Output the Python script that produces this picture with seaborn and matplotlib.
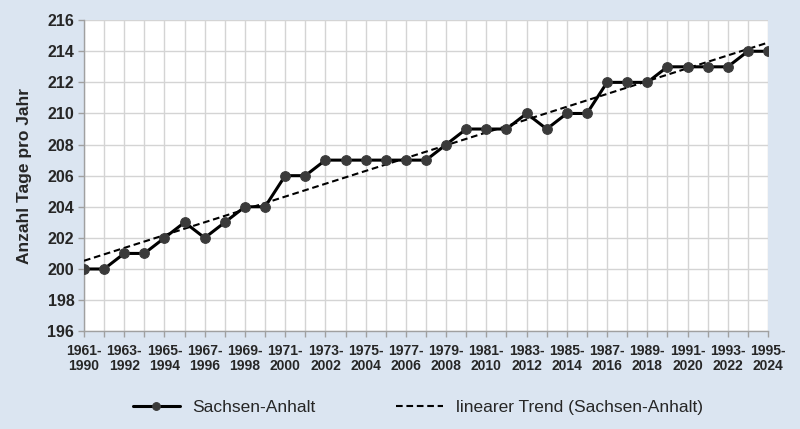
import numpy as np
import pandas as pd
import matplotlib
matplotlib.use("Agg")
import matplotlib.pyplot as plt
import seaborn as sns

periods = [f"{y}-{y+29}" for y in range(1961, 1996)]
values = [200, 200, 201, 201, 202, 203, 202, 203, 204, 204, 206, 206, 207, 207, 207,
          207, 207, 207, 208, 209, 209, 209, 210, 209, 210, 210, 212, 212, 212, 213,
          213, 213, 213, 214, 214]
y_ticks = list(range(196, 217, 2))
series_name = "Sachsen-Anhalt"
trend_name = "linearer Trend (Sachsen-Anhalt)"

sns.set_theme(style="white")
plt.rcParams['font.family'] = ['Liberation Sans', 'DejaVu Sans']

bg = "#dbe5f1"
fig = plt.figure(figsize=(8, 4.29), dpi=100, facecolor=bg)
ax = fig.add_axes([0.105, 0.228, 0.855, 0.725])
ax.set_facecolor("white")

x = np.arange(len(periods))
coef = np.polyfit(x, values, 1)
trend = np.polyval(coef, x)
df = pd.DataFrame({"x": x, "v": values, "t": trend})

sns.lineplot(data=df, x="x", y="t", ax=ax, color="black", linestyle=(0, (3.2, 1.8)),
             linewidth=1.5, label=trend_name, zorder=3)
sns.lineplot(data=df, x="x", y="v", ax=ax, color="black", linewidth=2.2,
             marker="o", markersize=7, markerfacecolor="#3a3a3a",
             markeredgecolor="#3a3a3a", label=series_name, zorder=4)

ax.set_xlim(0, len(periods) - 1)
ax.set_ylim(196, 216)
ax.set_yticks(y_ticks)
ax.set_yticklabels([str(t) for t in y_ticks], fontsize=11.5, fontweight="bold")
ax.set_xticks(x)
ax.set_xticklabels([p.replace("-", "-\n") if i % 2 == 0 else "" for i, p in enumerate(periods)],
                   fontsize=10, fontweight="bold", linespacing=1.15)
ax.set_xlabel("")
ax.set_ylabel("Anzahl Tage pro Jahr", fontsize=12.5, fontweight="bold", labelpad=11)

ax.grid(True, color="#d4d4d4", linewidth=1)
ax.set_axisbelow(True)
for s in ["top", "right"]:
    ax.spines[s].set_visible(False)
for s in ["left", "bottom"]:
    ax.spines[s].set_color("#a0a0a0")
    ax.spines[s].set_linewidth(1)
ax.tick_params(axis="both", which="both", direction="out", length=4, width=1,
               color="#a0a0a0", pad=3, left=True, bottom=True)
ax.tick_params(axis="x", pad=5)

h, l = ax.get_legend_handles_labels()
ax.get_legend().remove()
order = [l.index(series_name), l.index(trend_name)]
fig.legend([h[i] for i in order], [l[i] for i in order], loc="center",
           bbox_to_anchor=(0.522, 0.051), ncol=2, frameon=False,
           handlelength=2.7, handletextpad=0.75, columnspacing=4.6,
           markerscale=0.8, prop={'size': 12.5})

fig.savefig("out.png", dpi=100, facecolor=bg)
